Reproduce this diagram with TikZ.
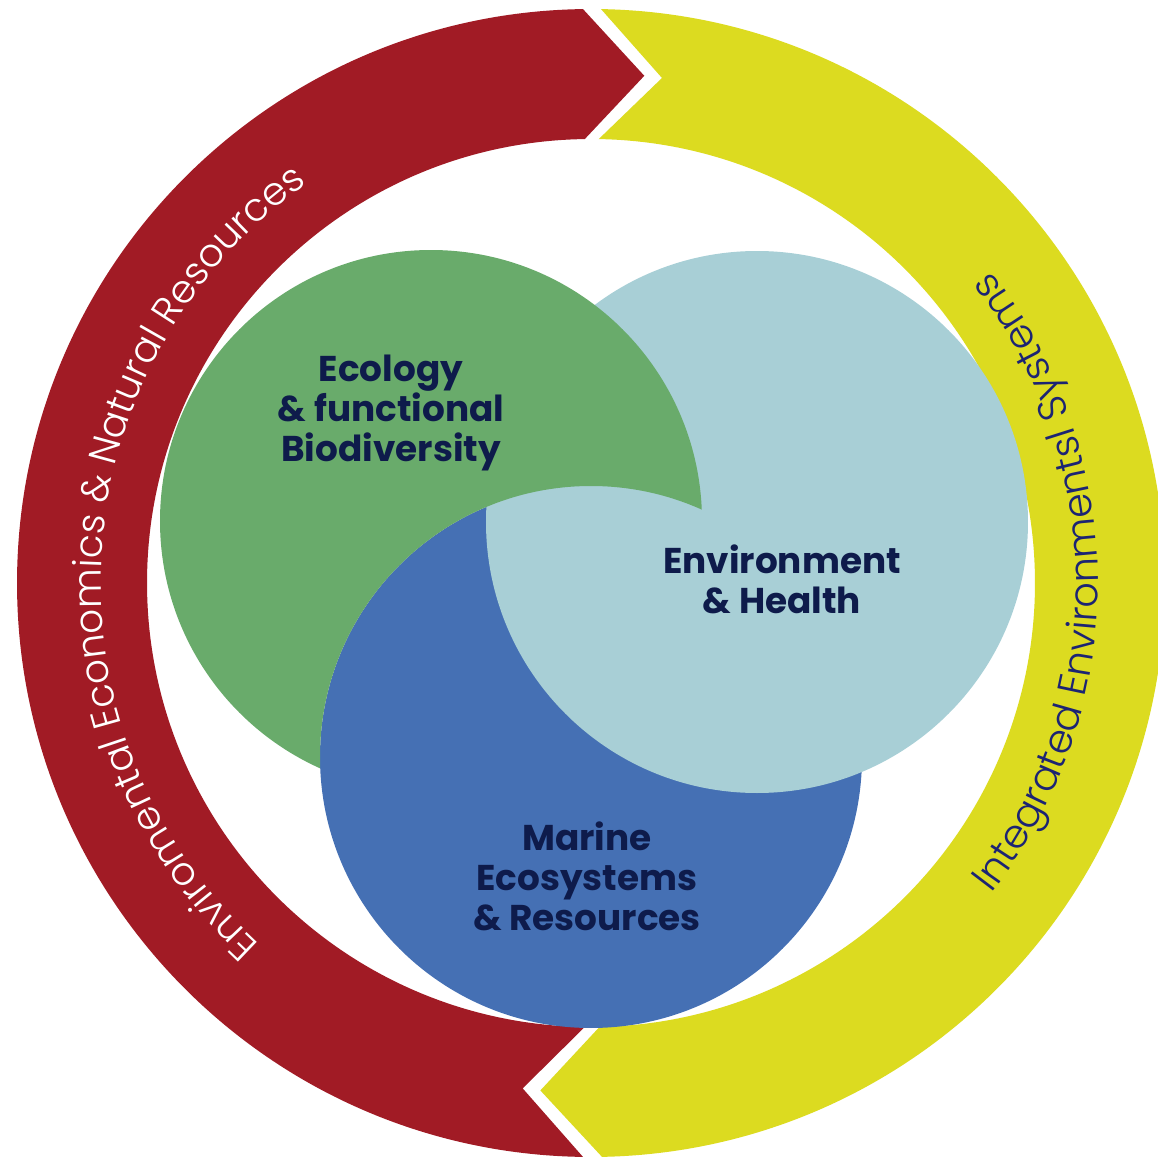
\documentclass[tikz,border=0pt]{standalone}
\usepackage{fontspec}
\setmainfont{Poppins}
\newfontfamily\ringfont{Poppins Light}
\usetikzlibrary{decorations.text}
\definecolor{ringred}{HTML}{A11B25}
\definecolor{ringyellow}{HTML}{DCDB20}
\definecolor{cgreen}{HTML}{69AB6B}
\definecolor{clight}{HTML}{A8CFD6}
\definecolor{cdark}{HTML}{4570B4}
\definecolor{navy}{HTML}{0E1B4B}
\definecolor{ringnavy}{HTML}{1C2473}
\begin{document}
\begin{tikzpicture}[
  circlabel/.style={font=\bfseries\fontsize{10.2}{11.4}\selectfont, text=navy, align=center, inner sep=0pt, anchor=north},
  ringtext/.style={decorate, decoration={text along path, text align=center, text color=#1}}
]
\useasboundingbox (0,0) rectangle (11.58,11.59);
\begin{scope}[shift={(5.91,5.76)}]
  % red arrow band (left)
  \fill[ringred] (269.2:5.74) arc[start angle=269.2, end angle=90.8, radius=5.74]
    -- (84:5.10) -- (90.8:4.44) arc[start angle=90.8, end angle=269.2, radius=4.44]
    -- (262.3:5.10) -- cycle;
  % yellow arrow band (right)
  \fill[ringyellow] (89:5.74) arc[start angle=89, end angle=-88.9, radius=5.74]
    -- (-95.7:5.10) -- (-88.9:4.44) arc[start angle=-88.9, end angle=89, radius=4.44]
    -- (82:5.10) -- cycle;
\end{scope}
% circles: dark blue, then light blue over it, then green outside dark blue
\fill[cdark] (5.91,4.02) circle[radius=2.71];
\fill[clight] (7.57,6.37) circle[radius=2.71];
\begin{scope}[even odd rule]
  \clip (-1,-1) -- (-1,13) -- (13,13) -- (13,-1) -- cycle
    (5.91,4.02) circle[radius=2.71];
  \fill[cgreen] (4.31,6.38) circle[radius=2.71];
\end{scope}
% circle labels
\node[circlabel] (eco) at (3.91,8.05) {Ecology\\\& functional\\Biodiversity};
\node[circlabel] (env) at (7.82,6.15) {Environment\\\& Health};
\node[circlabel] (mar) at (5.87,3.38) {Marine\\Ecosystems\\\& Resources};
% ring texts
\begin{scope}[shift={(5.91,5.76)}]
  \path[ringtext=white, decoration={text={|\ringfont\fontsize{11.1}{13}\selectfont|Enviromental Economics {\&} Natural Resources}}]
    (240:4.90) arc[start angle=240, end angle=112.8, radius=4.90];
  \path[ringtext=ringnavy, decoration={text={|\ringfont\fontsize{11.35}{13}\selectfont|Integrated Environmentsl Systems}}]
    (-55:5.07) arc[start angle=-55, end angle=55.2, radius=5.07];
\end{scope}
\end{tikzpicture}
\end{document}
